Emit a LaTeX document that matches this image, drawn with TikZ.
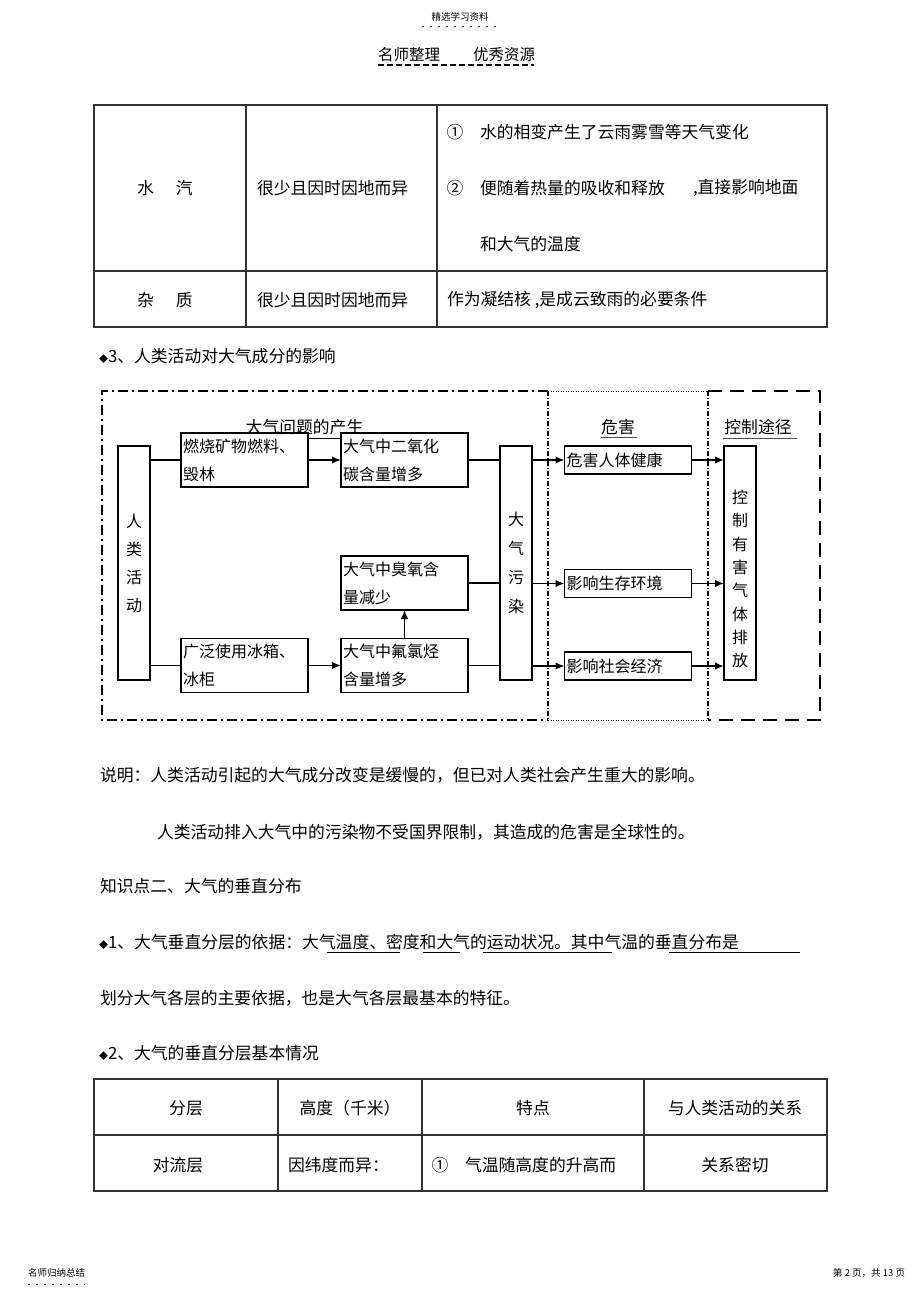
\documentclass[tikz,border=0pt]{standalone}
\usepackage{fontspec}
\setmainfont{Noto Sans CJK SC}
\usetikzlibrary{arrows.meta}
\begin{document}
\begin{tikzpicture}[x=1pt, y=-1pt,
  every node/.style={inner sep=0pt, outer sep=0pt},
  txt/.style={font=\fontsize{16.8}{20}\selectfont, anchor=west},
  ctxt/.style={font=\fontsize{16.8}{20}\selectfont},
  small/.style={font=\fontsize{9.5}{11}\selectfont},
  grid/.style={line width=1.2pt, black!80},
  box/.style={draw, line width=1.4pt, minimum width=127pt, minimum height=54pt,
    text width=123pt, inner xsep=2pt, align=left, font=\fontsize{16}{28}\selectfont},
  hbox/.style={box, minimum height=28pt},
  tall/.style={draw, line width=1.4pt, minimum width=32pt, minimum height=234pt,
    align=center, font=\fontsize{16}{28}\selectfont},
  arr/.style={line width=1.5pt, -{Latex[length=9pt,width=7.5pt]}},
  ln/.style={line width=1.5pt},
  frameA/.style={line width=1.8pt, dash pattern=on 10pt off 4pt on 2pt off 4pt},
  frameB/.style={line width=1pt, dash pattern=on 1pt off 1.5pt},
  frameC/.style={line width=2pt, dash pattern=on 14pt off 8pt},
  divider/.style={line width=1.2pt, dash pattern=on 5pt off 2pt on 1pt off 2pt}
]
\fill[white] (0,0) rectangle (920,1298);
\useasboundingbox (0,0) rectangle (920,1298);

% --- page header ---
\node[small] (hdr) at (460,17) {精选学习资料};
\draw[line width=1pt, dash pattern=on 1.5pt off 6.5pt] (422,27) -- (497,27);
\node[anchor=west, font=\fontsize{15.5}{18}\selectfont] (hdrl) at (378,55) {名师整理};
\node[anchor=west, font=\fontsize{15.5}{18}\selectfont] (hdrr) at (473,55) {优秀资源};
\draw[line width=1.2pt, dash pattern=on 6pt off 3pt] (378,65) -- (534,65);

% --- table 1 ---
\draw[grid] (94,105) rectangle (827,327);
\draw[grid] (94,271) -- (827,271);
\draw[grid] (246,105) -- (246,327);
\draw[grid] (437,105) -- (437,327);
\node[ctxt] (t11) at (165,188) {水\hspace{1.3em}汽};
\node[txt] (t12) at (257,188) {很少且因时因地而异};
\node[ctxt] (c1) at (455,132) {①};
\node[txt] (t13a) at (480,132) {水的相变产生了云雨雾雪等天气变化};
\node[ctxt] (c2) at (455,188) {②};
\node[txt] (t13b) at (480,188) {便随着热量的吸收和释放};
\node[txt] (t13c) at (693,188) {,直接影响地面};
\node[txt] (t13d) at (480,244) {和大气的温度};
\node[ctxt] (t21) at (165,300) {杂\hspace{1.3em}质};
\node[txt] (t22) at (257,300) {很少且因时因地而异};
\node[txt] (t23) at (447,300) {作为凝结核 ,是成云致雨的必要条件};

\node[txt] (sec3) at (99,356) {{\fontsize{9}{9}\selectfont ◆}3、人类活动对大气成分的影响};

% --- diagram frame ---
\draw[frameA] (548,391) -- (102,391) -- (102,720) -- (548,720);
\draw[frameB] (548,391) -- (708,391);
\draw[frameB] (548,720) -- (708,720);
\draw[frameC] (708,391) -- (820,391) -- (820,720) -- (708,720);
\draw[divider] (548,391) -- (548,720);
\draw[divider] (708,391) -- (708,720);

% --- diagram boxes ---
\node[tall] (people) at (134,563) {人\\类\\活\\动};
\node[box] (fuel) at (244.5,460) {燃烧矿物燃料、\\毁林};
\node[box] (co2) at (404.5,460) {大气中二氧化\\碳含量增多};
\node[box] (ozone) at (404.5,583) {大气中臭氧含\\量减少};
\node[box] (cfc) at (404.5,665.5) {大气中氟氯烃\\含量增多};
\node[box] (fridge) at (244.5,665.5) {广泛使用冰箱、\\冰柜};
\node[tall, font=\fontsize{16}{29}\selectfont] (pollution) at (516,563) {大\\气\\污\\染};
\node[hbox] (health) at (628,460) {危害人体健康};
\node[hbox] (env) at (628,583.5) {影响生存环境};
\node[hbox] (econ) at (628,666) {影响社会经济};
\node[tall] (control) at (740,563) {};
\node[align=center, font=\fontsize{16}{23.3}\selectfont] (controltxt) at (740,579)
  {控\\制\\有\\害\\气\\体\\排\\放};

% --- titles ---
\node[ctxt] (title1) at (304.5,427) {大气问题的产生};
\draw[line width=1pt] (fuel.east |- 0,438) -- (co2.west |- 0,438);
\node[ctxt] (title2) at (618,427) {危害};
\draw[line width=1pt, black!70] (601,437) -- (637,437);
\node[ctxt] (title3) at (758,427) {控制途径};
\draw[line width=1pt, black!70] (723,438) -- (797,438);

% --- connectors ---
\draw[ln] (people.east |- fuel.west) -- (fuel.west);
\draw[arr] (fuel) -- (co2);
\draw[ln] (co2.east) -- (co2.east -| pollution.west);
\draw[ln] (ozone.east) -- (ozone.east -| pollution.west);
\draw[arr] (cfc) -- (ozone);
\draw[ln] (people.east |- fridge.west) -- (fridge.west);
\draw[arr] (fridge) -- (cfc);
\draw[ln] (cfc.east) -- (cfc.east -| pollution.west);
\draw[arr] (pollution.east |- health.west) -- (health.west);
\draw[arr] (pollution.east |- env.west) -- (env.west);
\draw[arr] (pollution.east |- econ.west) -- (econ.west);
\draw[arr] (health.east) -- (health.east -| control.west);
\draw[arr] (env.east) -- (env.east -| control.west);
\draw[arr] (econ.east) -- (econ.east -| control.west);

% --- notes ---
\node[txt] (note1) at (100,775) {说明：人类活动引起的大气成分改变是缓慢的，但已对人类社会产生重大的影响。};
\node[txt] (note2) at (157,832) {人类活动排入大气中的污染物不受国界限制，其造成的危害是全球性的。};
\node[txt] (kp2) at (100,886) {知识点二、大气的垂直分布};
\node[txt] (p1) at (99,942) {{\fontsize{9}{9}\selectfont ◆}1、大气垂直分层的依据：大气温度、密度和大气的运动状况。其中气温的垂直分布是};
\draw[line width=1pt] (327,952) -- (400,952);
\draw[line width=1pt] (423,952) -- (460,952);
\draw[line width=1pt] (483,952) -- (612,952);
\draw[line width=1pt] (669,952) -- (800,952);
\node[txt] (p2) at (100,998) {划分大气各层的主要依据，也是大气各层最基本的特征。};
\node[txt] (sec2) at (99,1053) {{\fontsize{9}{9}\selectfont ◆}2、大气的垂直分层基本情况};

% --- table 2 ---
\draw[grid] (94,1079) rectangle (827,1191);
\draw[grid] (94,1135) -- (827,1135);
\draw[grid] (278,1079) -- (278,1191);
\draw[grid] (422,1079) -- (422,1191);
\draw[grid] (644,1079) -- (644,1191);
\node[ctxt] (h1) at (186,1108) {分层};
\node[ctxt] (h2) at (350,1108) {高度（千米）};
\node[ctxt] (h3) at (533,1108) {特点};
\node[ctxt] (h4) at (735,1108) {与人类活动的关系};
\node[ctxt] (r1) at (178,1165) {对流层};
\node[txt] (r2) at (288,1165) {因纬度而异：};
\node[ctxt] (c3) at (440,1165) {①};
\node[txt] (r3) at (465,1165) {气温随高度的升高而};
\node[ctxt] (r4) at (735,1165) {关系密切};

% --- page footer ---
\node[small, anchor=west] (ftl) at (28,1273) {名师归纳总结};
\draw[line width=1pt, dash pattern=on 1.5pt off 6.5pt] (28,1284) -- (85,1284);
\node[small, anchor=east] (ftr) at (905,1273) {第 2 页，共 13 页};
\end{tikzpicture}
\end{document}
